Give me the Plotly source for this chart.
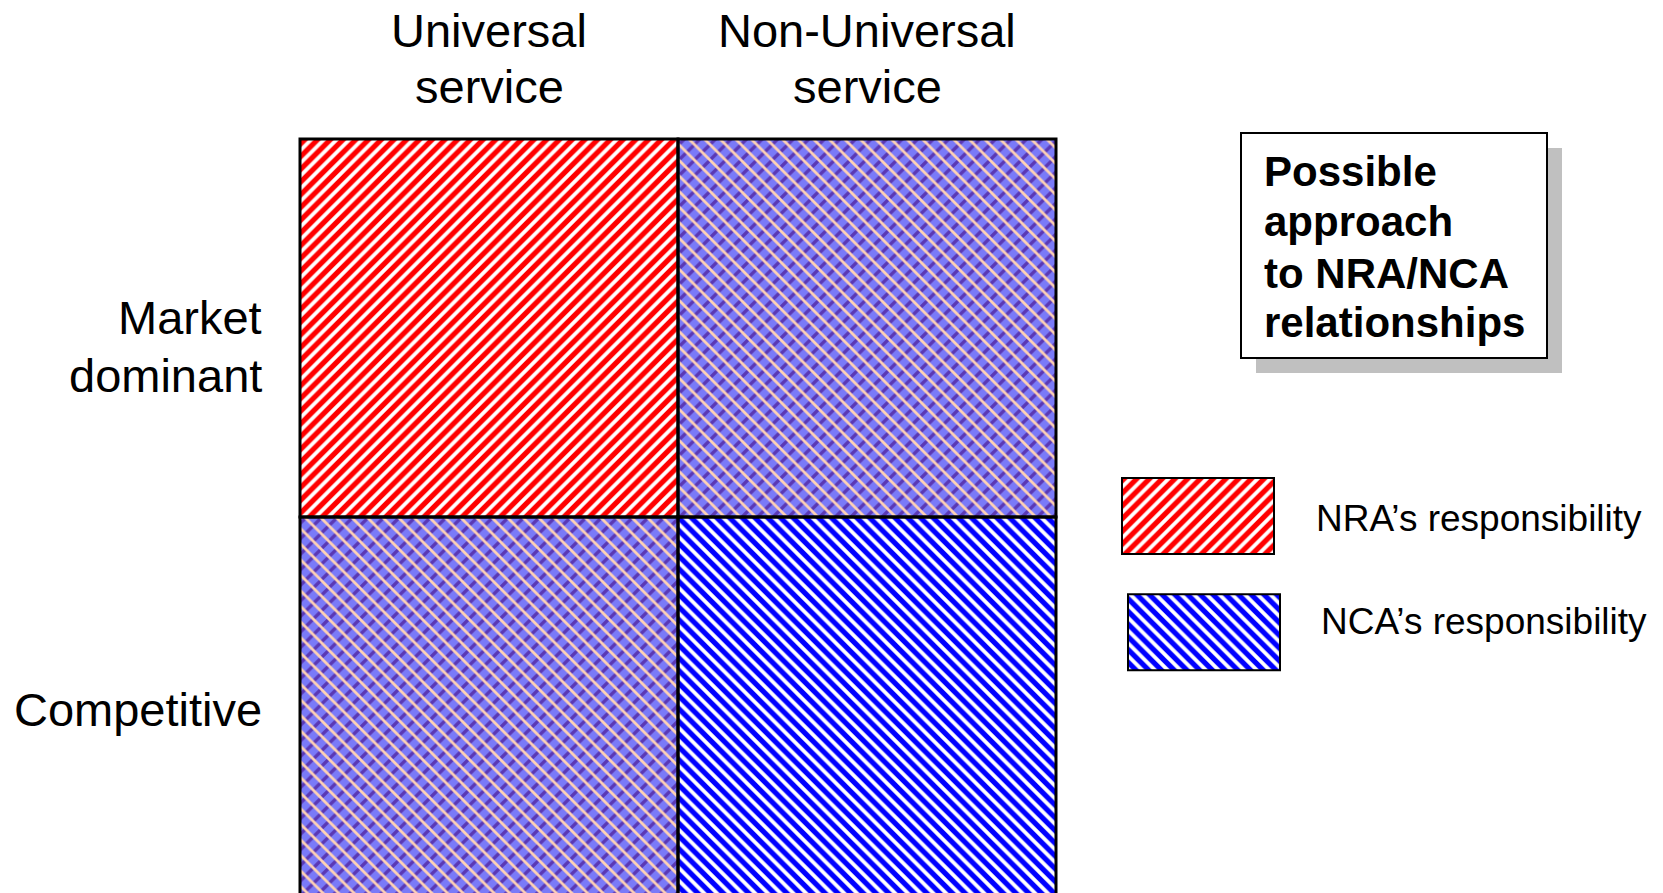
import plotly.graph_objects as go

# ---------------- data ----------------
columns = ["Universal<br>service", "Non-Universal<br>service"]
rows = ["Market<br>dominant", "Competitive"]          # top to bottom
responsibility = [["NRA", "Both"],
                  ["Both", "NCA"]]
legend_keys = ["NRA", "NCA"]
legend_labels = ["NRA’s responsibility", "NCA’s responsibility"]
box_lines = ["Possible", "approach", "to NRA/NCA", "relationships"]

# ---------------- style / layout ----------------
W, H = 1663, 893
FONT = "Liberation Sans, Arial, sans-serif"
RED, BLUE = "#ff0000", "#0000ff"
MIX_BG, MIX_DARK, MIX_LIGHT = "#7a7af8", "#5a38b4", "#ffd2b4"
PSIZE = 9
STRIPE_SOLIDITY = 0.58
MIX_SIZE = 11

CELL = 378          # px per grid unit
GRID_LEFT, GRID_TOP, PAD = 300, 139, 10

# legend swatch geometry (px)
SW_LEFT, SW_W, SW_H = 1122, 152, 76
SW_TOP = 478
SW_GAP_UNITS = 1.53
SW_DX = [0.0, 6 / 152]

header_line_y = [31, 87]
row_label_y = [[318, 375], [709]]
ROW_LABEL_RIGHT = 264
legend_text_x = [1314, 1319]
legend_text_y = [518, 621]

fig = go.Figure()

ncols, nrows = len(columns), len(rows)


def cells_for(pred):
    xs, bs = [], []
    for r in range(nrows):
        for c in range(ncols):
            if pred(responsibility[r][c]):
                xs.append(c + 0.5)
                bs.append(nrows - 1 - r)
    return xs, bs


def pattern(shape, color, bg="white", size=PSIZE, solidity=STRIPE_SOLIDITY):
    return dict(shape=shape, fgcolor=color, bgcolor=bg, size=size,
                solidity=solidity, fillmode="replace")


# NCA cells
xs, bs = cells_for(lambda v: v == "NCA")
fig.add_trace(go.Bar(x=xs, y=[1] * len(xs), base=bs, width=1,
                     marker=dict(color="white", line=dict(width=0),
                                 pattern=pattern("\\", BLUE)),
                     hoverinfo="skip"))
# NRA cells
xs, bs = cells_for(lambda v: v == "NRA")
fig.add_trace(go.Bar(x=xs, y=[1] * len(xs), base=bs, width=1,
                     marker=dict(color="white", line=dict(width=0),
                                 pattern=pattern("/", RED)),
                     hoverinfo="skip"))
# shared cells: lavender with a dark and a light diagonal
xs, bs = cells_for(lambda v: v == "Both")
fig.add_trace(go.Bar(x=xs, y=[1] * len(xs), base=bs, width=1,
                     marker=dict(color=MIX_BG, line=dict(width=0),
                                 pattern=pattern("/", MIX_DARK, bg=MIX_BG,
                                                 size=MIX_SIZE, solidity=0.3)),
                     hoverinfo="skip"))
fig.add_trace(go.Bar(x=xs, y=[1] * len(xs), base=bs, width=1,
                     marker=dict(color="rgba(0,0,0,0)", line=dict(width=0),
                                 pattern=pattern("\\", MIX_LIGHT,
                                                 bg="rgba(0,0,0,0)",
                                                 size=MIX_SIZE, solidity=0.25)),
                     hoverinfo="skip"))
# cell outlines
xs, bs = cells_for(lambda v: True)
fig.add_trace(go.Bar(x=xs, y=[1] * len(xs), base=bs, width=1,
                     marker=dict(color="rgba(0,0,0,0)",
                                 line=dict(width=3, color="black")),
                     hoverinfo="skip"))

# legend swatches on a second axis pair
for k, key in enumerate(legend_keys):
    color, shape = (RED, "/") if key == "NRA" else (BLUE, "\\")
    base = (len(legend_keys) - 1 - k) * SW_GAP_UNITS
    fig.add_trace(go.Bar(x=[0.5 + SW_DX[k]], y=[1], base=[base], width=1,
                         xaxis="x2", yaxis="y2",
                         marker=dict(color="white",
                                     line=dict(width=2, color="black"),
                                     pattern=pattern(shape, color)),
                         hoverinfo="skip"))

# axes geometry
x_dom = [(GRID_LEFT - PAD) / W, (GRID_LEFT + ncols * CELL + PAD) / W]
x_rng = [-PAD / CELL, ncols + PAD / CELL]
y_top = nrows + PAD / CELL
y_rng = [y_top - (H - GRID_TOP + PAD) / CELL, y_top]
y_dom = [0, (H - GRID_TOP + PAD) / H]

sw_span_units = (len(legend_keys) - 1) * SW_GAP_UNITS + 1
sw_bottom_px = SW_TOP + sw_span_units * SW_H
p2 = 5
x2_dom = [(SW_LEFT - p2) / W, (SW_LEFT + SW_W * (1 + max(SW_DX)) + p2) / W]
x2_rng = [-p2 / SW_W, 1 + max(SW_DX) + p2 / SW_W]
y2_dom = [(H - sw_bottom_px - p2) / H, (H - SW_TOP + p2) / H]
y2_rng = [-p2 / SW_H, sw_span_units + p2 / SW_H]

hidden = dict(showgrid=False, zeroline=False, showticklabels=False,
              showline=False, ticks="", fixedrange=True)

annotations = []
for c, label in enumerate(columns):
    for line, py in zip(label.split("<br>"), header_line_y):
        annotations.append(dict(text=line, xref="x", x=c + 0.5,
                                yref="paper", y=(H - py) / H,
                                xanchor="center", yanchor="middle",
                                showarrow=False,
                                font=dict(family=FONT, size=47, color="black")))
for r, label in enumerate(rows):
    for line, py in zip(label.split("<br>"), row_label_y[r]):
        annotations.append(dict(text=line, xref="paper", x=ROW_LABEL_RIGHT / W,
                                yref="paper", y=(H - py) / H,
                                xanchor="right", yanchor="middle",
                                showarrow=False,
                                font=dict(family=FONT, size=47, color="black")))
for k, label in enumerate(legend_labels):
    annotations.append(dict(text=label, xref="paper", x=legend_text_x[k] / W,
                            yref="paper", y=(H - legend_text_y[k]) / H,
                            xanchor="left", yanchor="middle", showarrow=False,
                            font=dict(family=FONT, size=37, color="black")))
box_y = [171, 221, 273, 323]
for line, py in zip(box_lines, box_y):
    annotations.append(dict(text="<b>" + line + "</b>", xref="paper", x=1262 / W,
                            yref="paper", y=(H - py) / H,
                            xanchor="left", yanchor="middle", showarrow=False,
                            font=dict(family=FONT, size=42, color="black")))

shapes = [
    dict(type="rect", xref="paper", yref="paper",
         x0=1256 / W, x1=1562 / W, y0=(H - 373) / H, y1=(H - 148) / H,
         fillcolor="#c0c0c0", line=dict(width=0), layer="above"),
    dict(type="rect", xref="paper", yref="paper",
         x0=1241 / W, x1=1547 / W, y0=(H - 358) / H, y1=(H - 133) / H,
         fillcolor="white", line=dict(width=2, color="black"), layer="above"),
]

fig.update_layout(
    width=W, height=H,
    margin=dict(l=0, r=0, t=0, b=0, pad=0),
    paper_bgcolor="white", plot_bgcolor="rgba(0,0,0,0)",
    barmode="overlay", showlegend=False,
    xaxis=dict(domain=x_dom, range=x_rng, **hidden),
    yaxis=dict(domain=y_dom, range=y_rng, **hidden),
    xaxis2=dict(domain=x2_dom, range=x2_rng, anchor="y2", **hidden),
    yaxis2=dict(domain=y2_dom, range=y2_rng, anchor="x2", **hidden),
    annotations=annotations, shapes=shapes,
)

fig.write_html("out.html",
               config={"displayModeBar": False, "staticPlot": True},
               post_script="document.body.style.margin='0';"
                           "document.body.style.overflow='hidden';")
